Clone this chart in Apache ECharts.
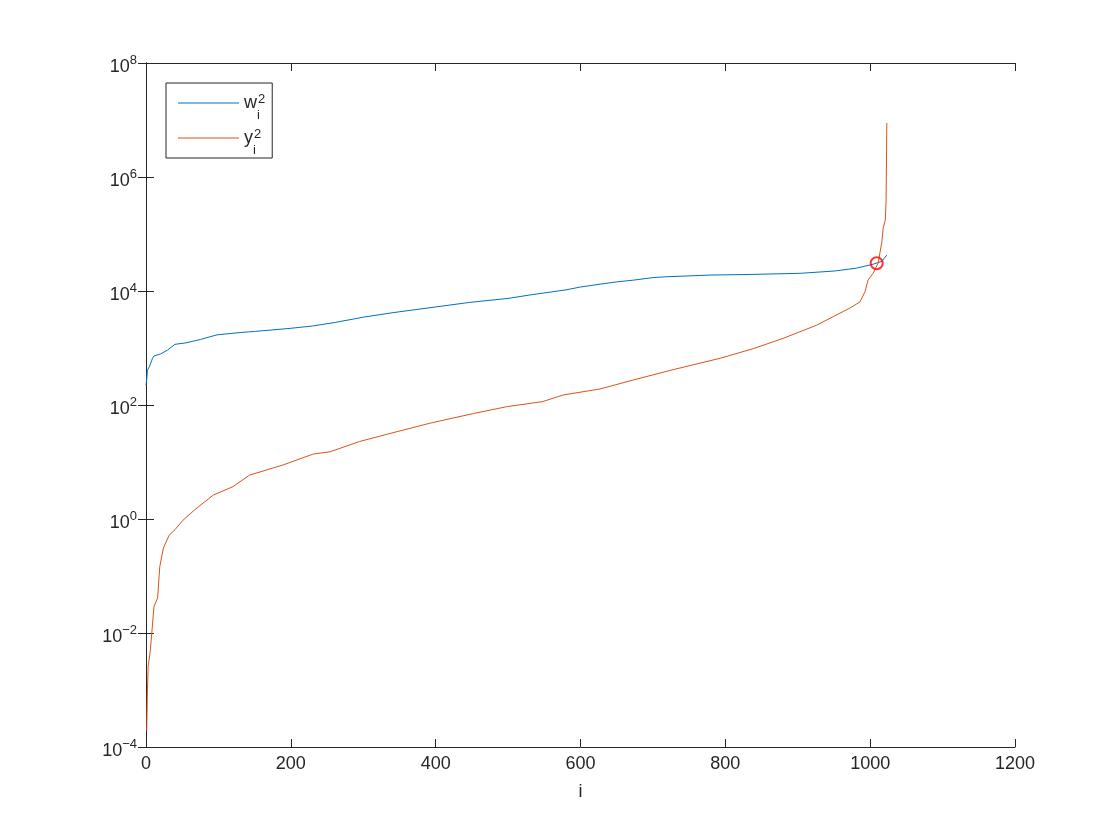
<!DOCTYPE html>
<html>
<head>
<meta charset="utf-8">
<script src="https://cdn.jsdelivr.net/npm/echarts@6/dist/echarts.min.js"></script>
<style>
html,body{margin:0;padding:0;background:#fff;}
#chart{width:1120px;height:840px;}
</style>
</head>
<body>
<div id="chart"></div>
<script>
// ---- data ----
const wIndex = [0, 1, 2, 5, 9, 11, 20, 30, 40, 55, 75, 98, 130, 150, 199, 230, 262, 300, 341, 400, 447, 500, 530, 580, 600, 627, 650, 673, 700, 719, 750, 780, 834, 903, 950, 981, 1004, 1016, 1023];
const wValue = [224, 282, 407, 479, 661, 724, 785, 923, 1160, 1230, 1410, 1700, 1870, 1950, 2210, 2430, 2820, 3470, 4170, 5250, 6310, 7410, 8510, 10470, 11750, 13180, 14450, 15500, 17180, 17780, 18400, 19050, 19500, 20420, 22390, 25120, 29510, 33110, 42660];

const yIndex = [1, 2, 3, 6, 8, 11, 16, 19, 24, 32, 40, 51, 67, 81, 93, 120, 143, 189, 231, 254, 295, 346, 392, 452, 498, 548, 576, 627, 673, 728, 793, 839, 880, 926, 949, 972, 986, 993, 997, 1004, 1011, 1016, 1018, 1021, 1022, 1023];
const yValue = [1.9e-4, 1.0e-3, 2.6e-3, 5.0e-3, 0.010, 0.029, 0.041, 0.145, 0.31, 0.52, 0.65, 0.95, 1.44, 2.0, 2.63, 3.69, 5.89, 8.85, 13.8, 15.1, 22.9, 33.9, 47.9, 70.8, 93.3, 115, 150, 191, 275, 417, 661, 977, 1480, 2510, 3550, 5010, 6460, 9770, 15500, 20400, 30900, 70800, 126000, 178000, 398000, 8.9e6];

const crossPoint = [1009, 30600];

const xTicks = [0, 200, 400, 600, 800, 1000, 1200];
const yExponents = [-4, -2, 0, 2, 4, 6, 8];

const seriesNames = ['w2', 'y2'];
const legendLabels = { w2: ['w', 'i', '2'], y2: ['y', 'i', '2'] };

// ---- chart ----
const TXT = '#262626';
const FONT = '"Liberation Sans", Arial, Helvetica, sans-serif';
const chart = echarts.init(document.getElementById('chart'), null, { renderer: 'canvas' });

function pairs(xs, ys) { return xs.map((x, k) => [x, ys[k]]); }

const axisLineStyle = { show: true, lineStyle: { color: TXT, width: 1 } };
const tickStyle = { show: true, inside: true, length: 8, lineStyle: { color: TXT, width: 1 } };

const option = {
  animation: false,
  backgroundColor: '#ffffff',
  grid: { left: 146, right: 105, top: 63, bottom: 93, containLabel: false },
  legend: {
    data: seriesNames,
    orient: 'vertical',
    left: 166,
    top: 83,
    padding: [10, 7, 1, 12],
    itemGap: 6,
    itemWidth: 61,
    itemHeight: 1.2,
    icon: 'rect',
    backgroundColor: '#ffffff',
    borderColor: TXT,
    borderWidth: 1,
    borderRadius: 0,
    selectedMode: false,
    formatter: function (name) {
      const l = legendLabels[name];
      return '{m|' + l[0] + '}{sb|' + l[1] + '}{sp|' + l[2] + '}';
    },
    textStyle: {
      color: TXT,
      fontFamily: FONT,
      rich: {
        m: { fontSize: 18, lineHeight: 20, fontFamily: FONT, color: TXT },
        sb: { fontSize: 13, lineHeight: 1, verticalAlign: 'top', padding: [16, 0, 0, 0], width: 1, fontFamily: FONT, color: TXT },
        sp: { fontSize: 13, lineHeight: 1, verticalAlign: 'top', padding: [0, 0, 0, 0], fontFamily: FONT, color: TXT }
      }
    }
  },
  xAxis: [
    {
      type: 'value', min: xTicks[0], max: xTicks[xTicks.length - 1], interval: 200,
      position: 'bottom',
      name: 'i', nameLocation: 'middle', nameGap: 36,
      nameTextStyle: { color: TXT, fontSize: 18, fontFamily: FONT },
      axisLine: axisLineStyle, axisTick: tickStyle,
      axisLabel: {
        color: TXT, fontSize: 18, fontFamily: FONT, margin: 8,
        formatter: function (v) { return String(v); }
      },
      splitLine: { show: false }
    },
    {
      type: 'value', min: xTicks[0], max: xTicks[xTicks.length - 1], interval: 200,
      position: 'top',
      axisLine: axisLineStyle, axisTick: tickStyle,
      axisLabel: { show: false }, splitLine: { show: false }
    }
  ],
  yAxis: [
    {
      type: 'log', logBase: 100, min: 1e-4, max: 1e8,
      position: 'left',
      axisLine: axisLineStyle, axisTick: tickStyle,
      minorTick: { show: false },
      axisLabel: {
        margin: 9,
        padding: [8, 0, 0, 0],
        formatter: function (v) {
          const e = Math.round(Math.log10(v));
          if (yExponents.indexOf(e) < 0) return '';
          return '{b|10}{s|' + (e < 0 ? '\u2212' + (-e) : String(e)) + '}';
        },
        rich: {
          b: { fontSize: 18, lineHeight: 27, color: TXT, fontFamily: FONT },
          s: { fontSize: 13, lineHeight: 1, verticalAlign: 'top', color: TXT, fontFamily: FONT }
        }
      },
      splitLine: { show: false }
    },
    {
      type: 'log', logBase: 100, min: 1e-4, max: 1e8,
      position: 'right',
      axisLine: axisLineStyle, axisTick: tickStyle,
      axisLabel: { show: false }, splitLine: { show: false }
    }
  ],
  series: [
    {
      name: 'w2', type: 'line', data: pairs(wIndex, wValue),
      symbol: 'none', smooth: false, z: 2,
      lineStyle: { color: '#0072BD', width: 1 },
      itemStyle: { color: '#0072BD' }
    },
    {
      name: 'y2', type: 'line', data: pairs(yIndex, yValue),
      symbol: 'none', smooth: false, z: 3,
      lineStyle: { color: '#D95319', width: 1 },
      itemStyle: { color: '#D95319' }
    },
    {
      name: 'cross', type: 'scatter', data: [crossPoint],
      symbol: 'circle', symbolSize: 12, z: 5,
      itemStyle: { color: 'rgba(0,0,0,0)', borderColor: '#FF0000', borderWidth: 2 }
    }
  ]
};
chart.setOption(option);
</script>
</body>
</html>
